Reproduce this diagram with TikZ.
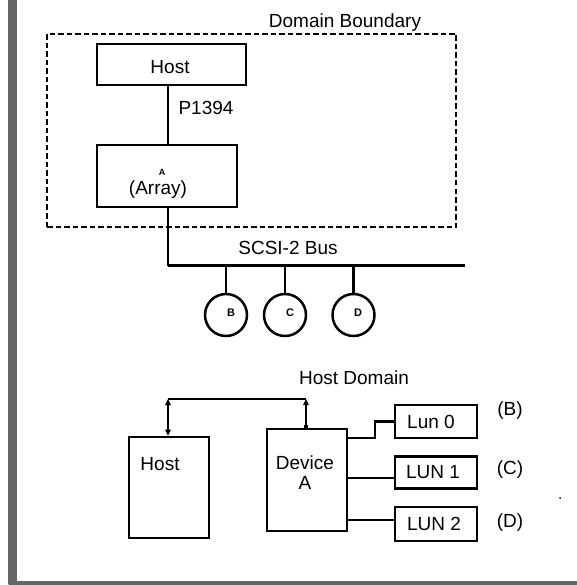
\documentclass[tikz,border=0pt]{standalone}
\usepackage{fontspec}
\setmainfont{Liberation Sans}
\usetikzlibrary{arrows.meta}
\begin{document}
\begin{tikzpicture}[x=1pt,y=-1pt,
  txt/.style={font=\fontsize{19}{21}\selectfont, inner sep=0pt},
  small/.style={font=\fontsize{9}{10}\selectfont\bfseries, inner sep=0pt},
  cl/.style={font=\fontsize{11}{12}\selectfont\bfseries, inner sep=0pt},
  box/.style={draw, line width=2.6pt, inner sep=0pt},
  wire/.style={line width=2.5pt},
  bus/.style={line width=3.2pt},
  dom/.style={draw, line width=2.4pt, dash pattern=on 5.5pt off 3pt},
  circ/.style={draw, circle, line width=2.5pt, minimum size=42pt, inner sep=0pt},
  frame/.style={draw=black!60, line cap=round},
  atip/.tip={Triangle[length=6pt,width=5.5pt]}
]
\useasboundingbox (0,0) rectangle (576,585);
% page frame
\coordinate (fTop) at (12,0);
\coordinate (fCorner) at (12,583);
\coordinate (fRight) at (576,583);
\draw[frame, line width=9pt] (fTop) -- (fCorner);
\draw[frame, line width=4pt] (fCorner) -- (fRight);

% ===== upper diagram =====
\node[dom, minimum width=409pt, minimum height=193pt] (domain) at (251.5,130.5) {};
\node[txt] (domlbl) at (345,23) {Domain Boundary};

\node[box, minimum width=149pt, minimum height=41pt] (hostT) at (171.5,64.5) {};
\node[txt] (hostTtxt) at (170,67) {Host};

\node[box, minimum width=140pt, minimum height=62pt] (array) at (167,176) {};
\node[small] (arrA) at (162,172) {A};
\node[txt] (arrTxt) at (158,190) {(Array)};

\coordinate (vx) at (168,0);
\draw[wire] (hostT.south -| vx) -- (array.north -| vx);
\node[txt] (p1394) at (206,108) {P1394};

\coordinate (busL) at (168,265.5);
\coordinate (busR) at (465,265.5);
\draw[wire] (array.south -| vx) -- (busL);
\draw[bus] (busL) -- (busR);
\node[txt] (scsi) at (288,248) {SCSI-2 Bus};

\node[circ] (cB) at (226,315) {};
\node[circ] (cC) at (285,315) {};
\node[circ] (cD) at (353.5,315) {};
\node[cl] (tB) at (231,313) {B};
\node[cl] (tC) at (290,313) {C};
\node[cl] (tD) at (358,313) {D};
\draw[wire] (cB.north |- busL) -- (cB.north);
\draw[wire] (cC.north |- busL) -- (cC.north);
\draw[wire] (cD.north |- busL) -- (cD.north);

% ===== lower diagram =====
\node[txt] (hdom) at (354,378) {Host Domain};

\node[box, minimum width=80pt, minimum height=101pt] (hostB) at (169,487.5) {};
\node[txt] (hostBtxt) at (160,464) {Host};

\node[box, minimum width=80pt, minimum height=102pt] (dev) at (307,480) {};
\node[txt, align=center] (devtxt) at (305,473) {Device\\[-1pt]A};

\coordinate (tl) at (168,399);
\coordinate (tr) at (306,399);
\draw[wire] (tl) -- (tr);
\draw[wire, atip-atip] (tl) -- (hostB.north -| tl);
\draw[wire, atip-] (tr) -- (dev.north -| tr);
\node[fill, minimum size=4.5pt, inner sep=0pt] (sq) at (dev.north -| tr) {};

\node[box, minimum width=82pt, minimum height=33pt] (lun0) at (436,421.5) {};
\node[box, minimum width=82pt, minimum height=32pt] (lun1) at (436,472.5) {};
\node[box, minimum width=82pt, minimum height=34pt] (lun2) at (436,524) {};
\node[txt] (l0t) at (431,422) {Lun 0};
\node[txt] (l1t) at (433,472.5) {LUN 1};
\node[txt] (l2t) at (434,524) {LUN 2};

\coordinate (j1) at (375,438);
\coordinate (y1) at (0,478);
\coordinate (y2) at (0,520);
\draw[wire] (dev.east |- j1) -- (j1) -- (j1 |- lun0.west) -- (lun0.west);
\draw[wire] (dev.east |- y1) -- (lun1.west |- y1);
\draw[wire] (dev.east |- y2) -- (lun2.west |- y2);

\node[txt] (pB) at (510,411) {(B)};
\node[txt] (pC) at (510,470) {(C)};
\node[txt] (pD) at (510,523) {(D)};

\fill (560,498) circle (1pt);
\end{tikzpicture}
\end{document}
